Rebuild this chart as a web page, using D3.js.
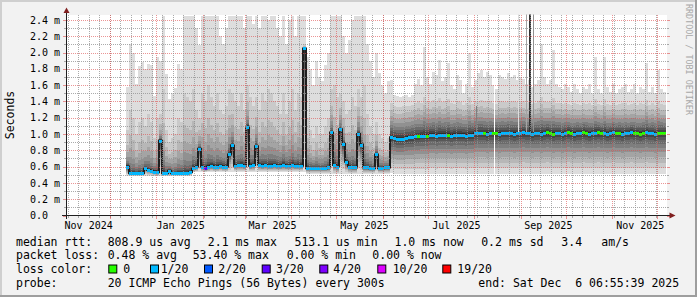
<!DOCTYPE html>
<html><head><meta charset="utf-8">
<script src="https://cdn.jsdelivr.net/npm/d3@7"></script>
<style>html,body{margin:0;padding:0;background:#f2f2f2}svg{display:block}</style>
</head><body><svg id="c" width="697" height="297"></svg>
<script>
// ---------------- DATA ----------------
const startTime = new Date(2024, 10, 1, 6, 55, 39);
const endTime = new Date(2025, 11, 6, 6, 55, 39);
const firstDataDay = 40.4;      // days after startTime where data begins
const stepDays = 2;             // one value per 2 days
const regimeChangeDay = 216.4;  // smoke shape changes here

// median rtt (ms) per step
const medianMs = [
 0.60,0.52,0.52,0.52,0.52,0.52,0.58,0.56,0.55,0.54, 0.53,0.92,0.52,0.52,0.55,0.52,0.52,0.52,0.52,0.52,
 0.52,0.53,0.58,0.60,0.82,0.60,0.58,0.60,0.61,0.60, 0.60,0.61,0.60,0.60,0.75,0.86,0.61,0.62,0.62,0.61,
 1.09,0.61,0.62,0.85,0.62,0.61,0.62,0.61,0.61,0.62, 0.61,0.61,0.62,0.61,0.61,0.62,0.61,0.61,0.61,2.05,
 0.58,0.58,0.58,0.58,0.58,0.58,0.58,0.59,1.02,0.62, 0.60,1.06,0.88,0.66,0.60,0.59,0.59,1.00,0.87,0.59,
 0.59,0.58,0.58,0.75,0.58,0.58,0.59,0.59,
 0.96,0.95,0.94,0.94,0.94,0.95,0.96,0.96,0.97,0.97,
 0.98,0.98,0.98,0.99,0.99,0.98,0.99,0.99,0.99,0.99,
 0.98,0.99,0.99,0.99,0.99,0.98,0.99,0.99,1.01,1.01,
 1.01,1.01,1.00,1.01,1.01,1.01,1.00,1.01,1.01,1.01,
 1.01,1.00,1.01,1.01,1.02,1.01,1.01,1.00,1.01,1.01,
 1.00,1.01,1.02,1.01,1.00,1.01,1.01,1.00,1.01,1.02,
 1.01,1.00,1.01,1.01,1.02,1.01,1.00,1.01,1.01,1.02,
 1.01,1.01,1.00,1.01,1.02,1.01,1.01,1.00,1.01,1.01,
 1.02,1.01,1.01,1.00,1.01,1.02,1.01,1.01,1.00,1.01,
 1.01,1.01
];
// lost pings (of 20) per step
const lossCount = [
 1,1,1,1,1,1,1,1,1,1, 1,1,1,1,1,1,1,1,1,1, 1,1,1,1,1,1,3,1,1,1, 1,1,1,1,1,1,1,1,1,1,
 1,1,1,1,1,1,1,1,1,1, 1,1,1,1,1,1,1,1,1,1, 1,1,1,1,1,1,1,1,1,1, 1,1,1,1,1,1,1,1,1,1,
 1,1,1,1,1,1,1,1,
 1,1,1,1,1,1,1,1,1,0,
 1,1,0,1,1,1,1,1,1,0,
 1,1,1,1,1,1,1,1,1,1,
 1,0,1,1,0,0,1,1,1,1,
 1,1,1,1,1,1,1,1,1,1,
 1,1,0,0,0,1,1,1,1,0,
 0,1,1,1,0,0,1,1,1,0,
 0,1,1,1,1,0,0,1,1,1,
 1,0,0,0,0,1,1,1,1,0,
 0,0
];
// slowest ping (ms) per step
const pingMaxMs = [
 1.58,2.11,2.00,1.62,1.84,1.88,1.80,1.86,1.85,1.47, 1.94,1.90,2.45,1.74,1.43,1.50,1.56,1.86,1.80,2.45,
 2.45,2.45,2.45,2.30,2.09,2.45,2.45,2.45,2.45,2.45, 2.45,2.20,2.10,2.30,2.45,2.45,2.45,2.45,2.45,2.30,
 2.45,2.45,2.35,2.45,2.30,2.45,2.45,2.40,2.45,2.45, 2.30,2.20,2.45,2.10,2.40,2.45,2.20,2.45,2.45,2.45,
 1.95,1.80,1.60,1.90,1.70,1.65,1.85,2.00,2.45,2.45, 2.45,2.45,2.20,2.00,2.15,2.40,2.45,2.45,2.45,2.45,
 2.10,1.90,1.70,2.00,1.75,1.60,1.50,1.65,
 1.66,1.48,1.47,1.45,1.47,1.48,1.46,1.48,1.62,1.68,
 1.60,2.07,1.70,1.62,1.76,1.72,1.91,1.65,1.70,1.87,
 1.60,1.55,1.72,1.66,1.50,1.62,1.99,1.58,1.66,1.75,
 1.78,1.70,1.76,1.72,1.60,1.55,1.72,1.70,1.68,1.75,
 1.70,1.72,1.66,1.70,1.68,1.62,1.66,1.58,1.62,1.66,
 2.11,1.70,1.62,1.66,2.03,1.62,1.58,1.55,1.62,1.58,
 1.52,1.62,1.55,1.50,1.58,1.55,1.62,1.50,1.95,1.55,
 1.50,1.95,1.58,1.52,1.62,1.50,1.55,1.58,1.62,1.52,
 1.55,1.62,1.50,1.58,1.55,1.87,1.52,1.58,1.50,1.79,
 1.55,1.52
];
// second-slowest ping (ms) per step
const ping19Ms = [
 1.05,1.30,1.20,1.00,1.15,1.20,1.10,1.25,1.15,0.95, 1.20,1.25,1.55,1.05,0.90,0.95,1.00,1.20,1.15,1.50,
 1.45,1.40,1.55,1.30,1.20,1.50,1.40,1.60,1.45,1.35, 1.50,1.30,1.25,1.35,1.55,1.50,1.40,1.35,1.50,1.30,
 1.60,1.45,1.35,1.45,1.30,1.50,1.40,1.55,1.50,1.40, 1.35,1.25,1.50,1.25,1.40,1.55,1.30,1.50,1.45,2.10,
 1.20,1.05,0.95,1.10,1.00,1.00,1.10,1.20,1.55,1.60, 1.45,1.50,1.40,1.25,1.30,1.45,1.35,1.55,1.45,1.60,
 1.25,1.10,1.00,1.15,1.00,0.95,0.90,0.95,
 1.38,1.34,1.33,1.33,1.34,1.35,1.35,1.36,1.38,1.40,
 1.38,1.45,1.40,1.39,1.42,1.40,1.44,1.39,1.40,1.43,
 1.38,1.37,1.40,1.39,1.36,1.38,1.45,1.37,1.40,1.41,
 1.42,1.40,1.41,1.40,1.38,1.37,1.40,1.40,1.39,1.41,
 1.40,1.41,1.39,1.40,1.40,1.38,1.39,1.37,1.38,1.40,
 1.46,1.40,1.39,1.40,1.44,1.38,1.38,1.37,1.38,1.37,
 1.36,1.38,1.37,1.36,1.38,1.37,1.38,1.36,1.43,1.37,
 1.36,1.43,1.37,1.36,1.38,1.36,1.37,1.38,1.38,1.36,
 1.37,1.38,1.36,1.38,1.37,1.42,1.36,1.38,1.36,1.40,
 1.37,1.36
];
// fastest ping (ms) per step
const pingMinMs = [
 0.49,0.48,0.48,0.48,0.48,0.48,0.49,0.49,0.49,0.48, 0.48,0.49,0.48,0.48,0.48,0.48,0.48,0.48,0.48,0.48,
 0.48,0.49,0.53,0.53,0.53,0.53,0.53,0.53,0.53,0.53, 0.53,0.53,0.53,0.53,0.53,0.53,0.53,0.53,0.53,0.53,
 0.53,0.53,0.53,0.53,0.53,0.53,0.53,0.53,0.53,0.53, 0.53,0.53,0.53,0.53,0.53,0.53,0.53,0.53,0.53,0.53,
 0.51,0.51,0.51,0.51,0.51,0.51,0.51,0.51,0.51,0.51, 0.51,0.51,0.51,0.51,0.51,0.51,0.51,0.51,0.51,0.51,
 0.51,0.51,0.51,0.51,0.51,0.51,0.51,0.51,
 0.52,0.51,0.51,0.51,0.51,0.51,0.51,0.51,0.51,0.51,
 0.51,0.51,0.51,0.51,0.51,0.51,0.51,0.51,0.51,0.51,
 0.51,0.51,0.51,0.51,0.51,0.51,0.51,0.51,0.51,0.51,
 0.51,0.51,0.51,0.51,0.51,0.51,0.51,0.51,0.51,0.51,
 0.51,0.51,0.51,0.51,0.51,0.51,0.51,0.51,0.51,0.51,
 0.51,0.51,0.51,0.51,0.51,0.51,0.51,0.51,0.51,0.51,
 0.51,0.51,0.51,0.51,0.51,0.51,0.51,0.51,0.51,0.51,
 0.51,0.51,0.51,0.51,0.51,0.51,0.51,0.51,0.51,0.51,
 0.51,0.51,0.51,0.51,0.51,0.51,0.51,0.51,0.51,0.51,
 0.51,0.51
];
// distribution shape of the inner pings (fraction of distance from median)
const shapeUpEarly   = [0.60,0.40,0.26,0.16,0.10,0.06,0.035,0.015]; // pings 18..11
const shapeDownEarly = [0.85,0.70,0.56,0.44,0.33,0.24,0.16,0.09,0.04]; // pings 2..10
const shapeUpLate    = [0.80,0.63,0.49,0.37,0.27,0.18,0.11,0.05];
const shapeDownLate  = [0.86,0.72,0.59,0.47,0.36,0.26,0.17,0.10,0.04];
// isolated outlier streaks
const streakDays = [273.7, 301.9, 306.9, 309.1, 311.9];
const streakRank = [6, 1, 4, 10, 5];   // smoke layer reached by the streak
const streakTopMs = [1.34, 2.6, 2.6, 2.6, 2.6];
// missing sample (no data) days
const gapDays = [285.7];

const yTicks = [0,0.2,0.4,0.6,0.8,1.0,1.2,1.4,1.6,1.8,2.0,2.2,2.4];
const yTickLabels = ["0.0  ","0.2 m","0.4 m","0.6 m","0.8 m","1.0 m","1.2 m","1.4 m","1.6 m","1.8 m","2.0 m","2.2 m","2.4 m"];
const xLabels = ["Nov 2024","Jan 2025","Mar 2025","May 2025","Jul 2025","Sep 2025","Nov 2025"];
const firstLabelTime = new Date(2024, 10, 16, 19, 0, 0);
const labelStepDays = 61.29;

const lossThresholds = [0,1,2,3,4,10,19];
const lossColors = ["#26ff00","#00b8ff","#0059ff","#5e00ff","#7e00ff","#dd00ff","#ff0000"];
const lossLabels = ["0","1/20","2/20","3/20","4/20","10/20","19/20"];

const rttStats = ["808.9 us avg","2.1 ms max","513.1 us min","1.0 ms now","0.2 ms sd","3.4","am/s"];
const lossStats = ["0.48 % avg","53.40 % max","0.00 % min","0.00 % now"];
const probeText = "20 ICMP Echo Pings (56 Bytes) every 300s";
const endText = "end: Sat Dec  6 06:55:39 2025";

// ---------------- DRAW ----------------
const svg = d3.select("#c");
const W = 697, H = 297;
const DAY = 86400000;
const x = d3.scaleTime().domain([startTime, endTime]).range([65.4, 665.4]);
const y = d3.scaleLinear().domain([0, 2.455]).range([215.5, 15.5]);
const FONT = "DejaVu Sans Mono";

svg.append("rect").attr("width", W).attr("height", H).attr("fill", "#f2f2f2");
svg.append("rect").attr("x",0).attr("y",0).attr("width",W).attr("height",2).attr("fill","#cfcfcf");
svg.append("rect").attr("x",0).attr("y",0).attr("width",2).attr("height",H).attr("fill","#cfcfcf");
svg.append("rect").attr("x",0).attr("y",H-2).attr("width",W).attr("height",2).attr("fill","#9e9e9e");
svg.append("rect").attr("x",W-2).attr("y",0).attr("width",2).attr("height",H).attr("fill","#9e9e9e");

svg.append("rect").attr("x", 66).attr("y", 15).attr("width", 601).attr("height", 200).attr("fill", "#fff");
svg.append("clipPath").attr("id","pc").append("rect").attr("x",66).attr("y",14.5).attr("width",601).attr("height",201);
const plot = svg.append("g").attr("clip-path","url(#pc)");

const steps = medianMs.map((m, i) => {
  const d0 = firstDataDay + i * stepDays;
  const late = d0 >= regimeChangeDay - 0.01;
  const up = late ? shapeUpLate : shapeUpEarly;
  const dn = late ? shapeDownLate : shapeDownEarly;
  const p = new Array(21);
  p[1] = pingMinMs[i]; p[20] = pingMaxMs[i]; p[19] = Math.max(ping19Ms[i], m);
  for (let k = 2; k <= 10; k++) p[k] = m - (m - p[1]) * dn[k - 2];
  for (let k = 18; k >= 11; k--) p[k] = m + (p[19] - m) * up[18 - k];
  return { t0: new Date(+startTime + d0 * DAY), t1: new Date(+startTime + (d0 + stepDays) * DAY), p, m, loss: lossCount[i] };
});
const stepAt = d => steps[Math.floor((d - firstDataDay) / stepDays)];

function smokeGray(k) { const g = Math.round(190 / 10 * (10 - k)) + 50; return d3.rgb(g, g, g).formatHex(); }
for (let k = 1; k <= 10; k++) {
  const path = d3.path();
  steps.forEach(s => {
    const x0 = Math.round(x(s.t0)), x1 = Math.round(x(s.t1));
    const yt = y(s.p[21 - k]), yb = y(s.p[k]);
    path.rect(x0, yt, x1 - x0, yb - yt);
  });
  plot.append("path").attr("d", path.toString()).attr("fill", smokeGray(k)).attr("shape-rendering","crispEdges");
}
streakDays.forEach((d, i) => {
  const t = new Date(+startTime + d * DAY);
  const s = stepAt(d);
  plot.append("rect").attr("x", Math.round(x(t))).attr("width", streakRank[i] >= 10 ? 2 : 1)
    .attr("y", y(streakTopMs[i])).attr("height", y(s.m) - y(streakTopMs[i]))
    .attr("fill", smokeGray(streakRank[i])).attr("shape-rendering","crispEdges");
});
gapDays.forEach(d => {
  const t = new Date(+startTime + d * DAY);
  const s = stepAt(d);
  plot.append("rect").attr("x", Math.round(x(t))).attr("width", 1)
    .attr("y", y(s.p[20])).attr("height", y(s.p[1]) - y(s.p[20]))
    .attr("fill", "#fff").attr("shape-rendering","crispEdges");
});

// grid
const gridG = svg.append("g");
const GRID = "rgba(143,143,143,0.75)", MGRID = "rgba(222,79,79,0.6)";
d3.range(0, 2.45, 0.1).forEach(v => {
  const major = Math.abs(v / 0.2 - Math.round(v / 0.2)) < 1e-6;
  const yy = Math.round(y(v)) + 0.5;
  const c = major ? MGRID : GRID;
  if (v > 0.01) gridG.append("line").attr("x1", 67).attr("x2", 667).attr("y1", yy).attr("y2", yy)
    .attr("stroke", c).attr("stroke-dasharray", "1,1");
  gridG.append("line").attr("x1", major ? 63 : 64).attr("x2", 66).attr("y1", yy).attr("y2", yy).attr("stroke", c);
  gridG.append("line").attr("x1", 667).attr("x2", major ? 670 : 669).attr("y1", yy).attr("y2", yy).attr("stroke", c);
});
d3.timeSunday.range(startTime, endTime).forEach(t => {
  const xx = Math.round(x(t)) + 0.5;
  gridG.append("line").attr("x1", xx).attr("x2", xx).attr("y1", 15).attr("y2", 215)
    .attr("stroke", GRID).attr("stroke-dasharray", "1,1");
  gridG.append("line").attr("x1", xx).attr("x2", xx).attr("y1", 216).attr("y2", 218).attr("stroke", GRID);
});
d3.timeMonth.range(startTime, endTime).forEach(t => {
  const xx = Math.round(x(t)) + 0.5;
  gridG.append("line").attr("x1", xx).attr("x2", xx).attr("y1", 15).attr("y2", 215)
    .attr("stroke", MGRID).attr("stroke-dasharray", "1,1");
  gridG.append("line").attr("x1", xx).attr("x2", xx).attr("y1", 216).attr("y2", 219).attr("stroke", MGRID);
});

// median line
const lineGen = d3.line().curve(d3.curveStepAfter).x(d => Math.round(x(d.t0))).y(d => y(d.m));
const lineData = steps.concat([{ t0: steps[steps.length - 1].t1, m: steps[steps.length - 1].m }]);
plot.append("path").attr("d", lineGen(lineData)).attr("fill", "none").attr("stroke", "#1f1f1f").attr("stroke-width", 2);
function lossColor(l) { let c = lossColors[0]; lossThresholds.forEach((th, i) => { if (l >= th) c = lossColors[i]; }); return c; }
steps.forEach(s => {
  const x0 = Math.round(x(s.t0)), x1 = Math.round(x(s.t1));
  plot.append("rect").attr("x", x0).attr("width", x1 - x0).attr("y", Math.round(y(s.m)) - 1.5).attr("height", 3)
    .attr("fill", lossColor(s.loss)).attr("shape-rendering","crispEdges");
});

// axes
const axisCol = "#1f1f1f", arrowCol = "#801f1f";
svg.append("line").attr("x1", 62).attr("x2", 670).attr("y1", 215.5).attr("y2", 215.5).attr("stroke", axisCol);
svg.append("line").attr("x1", 66.5).attr("x2", 66.5).attr("y1", 219).attr("y2", 12).attr("stroke", axisCol);
svg.append("path").attr("d", "M66.5,7.5L63.5,13L69.5,13Z").attr("fill", arrowCol);
svg.append("path").attr("d", "M675.5,215.5L669.5,212.5L669.5,218.5Z").attr("fill", arrowCol);

yTicks.forEach((v, i) => {
  svg.append("text").attr("x", 30).attr("y", y(v)).attr("dy", "0.36em").attr("text-anchor", "start")
    .attr("font-family", FONT).attr("font-size", 10).attr("fill", "#000").style("white-space","pre").text(yTickLabels[i]);
});
xLabels.forEach((lab, i) => {
  const xc = x(new Date(+firstLabelTime + i * labelStepDays * DAY));
  svg.append("text").attr("x", xc).attr("y", 229).attr("text-anchor", "middle")
    .attr("font-family", FONT).attr("font-size", 10).attr("fill", "#000").text(lab);
});
svg.append("text").attr("transform", "translate(14,115) rotate(-90)").attr("text-anchor", "middle")
  .attr("font-family", FONT).attr("font-size", 11.5).attr("fill", "#000").text("Seconds");
svg.append("text").attr("transform", "translate(686,4) rotate(90)").attr("text-anchor", "start")
  .attr("font-family", FONT).attr("font-size", 8.4).attr("fill", "#a8a8a8").text("RRDTOOL / TOBI OETIKER");

// legend
const LF = 11.5;
function ltext(xx, yy, s) {
  svg.append("text").attr("x", xx).attr("y", yy).attr("dy", "0.36em").attr("font-family", FONT)
    .attr("font-size", LF).attr("fill", "#000").style("white-space","pre").text(s);
}
const rows = [241.5, 255, 269, 282.7];
ltext(16, rows[0], "median rtt:");
const rttX = [107.7, 207.8, 294.5, 394.5, 481.2, 561.3, 601.3];
rttStats.forEach((s, i) => ltext(rttX[i], rows[0], s));
ltext(16, rows[1], "packet loss:");
const lossX = [107.7, 192.7, 286.7, 372.3];
lossStats.forEach((s, i) => ltext(lossX[i], rows[1], s));
ltext(16, rows[2], "loss color:");
const boxX = [108.3, 150, 204, 261.7, 319.3, 377.3, 442.3];
const labX = [123.3, 160.7, 218.3, 276, 333.3, 392.7, 457.3];
lossLabels.forEach((s, i) => {
  svg.append("rect").attr("x", boxX[i] + 0.5).attr("y", rows[2] - 4).attr("width", 8).attr("height", 8)
    .attr("fill", lossColors[i]).attr("stroke", "#000").attr("stroke-width", 1);
  ltext(labX[i], rows[2], s);
});
ltext(16, rows[3], "probe:");
ltext(107.7, rows[3], probeText);
ltext(478.3, rows[3], endText);
</script></body></html>
